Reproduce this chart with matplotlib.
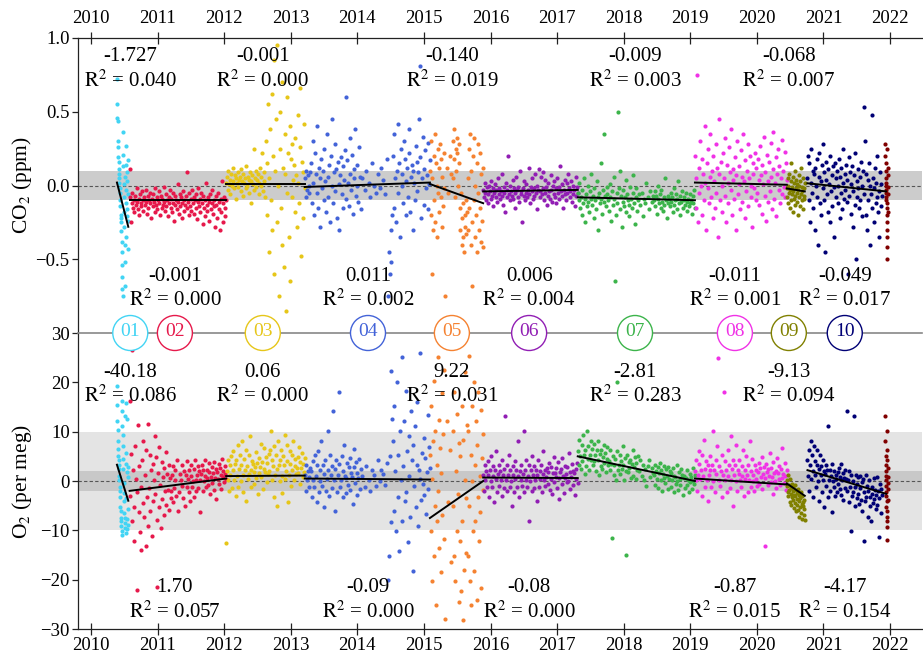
import numpy as np
import matplotlib
matplotlib.use('Agg')
import matplotlib.pyplot as plt

plt.rcParams['font.family'] = ['Liberation Serif', 'DejaVu Serif']
plt.rcParams['mathtext.fontset'] = 'stix'

nan = np.nan

# segments: name, colour, time span (decimal year)
seg_names = ['01', '02', '03', '04', '05', '06', '07', '08', '09', '10']
seg_colors = ['#42d4f4', '#e6194b', '#e6c619', '#4363d8', '#f58231',
              '#911eb4', '#3cb44b', '#f032e6', '#808000', '#000075', '#800000']
seg_start = [2010.39, 2010.58, 2012.03, 2013.21, 2015.09, 2015.89, 2017.31, 2019.07, 2020.45, 2020.76, 2021.93]
seg_end = [2010.56, 2012.03, 2013.21, 2015.09, 2015.89, 2017.31, 2019.07, 2020.45, 2020.72, 2021.88, 2021.97]

# regression lines (value at start / end of each segment)
fit_t1 = [2010.56, 2012.03, 2013.21, 2015.09, 2015.89, 2017.31, 2019.07, 2020.45, 2020.72, 2021.94]
co2_fit_start = [0.02, -0.10, 0.01, -0.01, 0.01, -0.04, -0.08, 0.02, -0.02, 0.015]
co2_fit_end = [-0.28, -0.10, 0.01, 0.02, -0.12, -0.03, -0.10, 0.005, -0.04, -0.04]
o2_fit_start = [3.3, -2.0, 1.0, 0.5, -7.5, 0.7, 5.0, 0.5, -0.5, 2.2]
o2_fit_end = [-4.0, 0.5, 1.1, 0.3, 0.0, 0.6, 0.0, -0.7, -3.0, -2.6]

co2_slope = [-1.727, -0.001, -0.001, 0.011, -0.140, 0.006, -0.009, -0.011, -0.068, -0.049]
co2_r2 = [0.040, 0.000, 0.000, 0.002, 0.019, 0.004, 0.003, 0.001, 0.007, 0.017]
o2_slope = [-40.18, 1.70, 0.06, -0.09, 9.22, -0.08, -2.81, -0.87, -9.13, -4.17]
o2_r2 = [0.086, 0.057, 0.000, 0.000, 0.031, 0.000, 0.283, 0.015, 0.094, 0.154]
label_x = [2010.59, 2011.26, 2012.58, 2014.16, 2015.42, 2016.58, 2018.17, 2019.67, 2020.48, 2021.32]

# CO2 residuals (ppm), in time order inside each segment
co2_01 = [0.72, 0.55, 0.46, 0.44, 0.30, 0.26, 0.19, 0.16, 0.11, 0.08, 0.05, 0.02, -0.02, -0.05, -0.10, -0.14, -0.20, -0.22, -0.25, -0.31,
          -0.38, -0.45, -0.54, -0.62, -0.70, -0.75, 0.36, 0.21, 0.13, 0.01, -0.08, -0.18, -0.28, -0.40, -0.52, -0.68, 0.06, -0.12, -0.35, 0.27,
          -0.03, 0.14, -0.21, 0.09, -0.16, 0.03, -0.24, -0.06, 0.17, -0.43]
co2_02 = [0.11, -0.08, -0.25, -0.12, -0.05, -0.15, -0.10, -0.18, -0.07, -0.13, -0.02, -0.11, -0.16, -0.09, -0.20, -0.06, -0.12, -0.14, -0.04, -0.10,
          -0.17, -0.08, -0.13, -0.03, -0.11, -0.19, -0.07, -0.15, -0.10, -0.12, -0.05, -0.22, -0.09, -0.14, -0.06, -0.11, -0.18, -0.02, -0.13, -0.08,
          -0.16, -0.10, -0.04, -0.12, -0.20, -0.07, -0.15, -0.09, -0.13, -0.01, -0.11, -0.17, -0.06, -0.14, -0.10, -0.21, -0.08, -0.12, -0.03, -0.15,
          -0.09, -0.18, -0.05, -0.12, -0.24, -0.07, -0.13, -0.10, -0.16, 0.01, -0.11, -0.19, -0.06, -0.14, -0.08, -0.22, -0.12, -0.04, -0.17, -0.10,
          -0.13, -0.07, -0.15, 0.09, -0.11, -0.20, -0.05, -0.14, -0.09, -0.17, -0.03, -0.12, -0.08, -0.19, -0.10, -0.15, -0.06, -0.23, -0.11, -0.02,
          -0.14, -0.09, -0.18, -0.05, -0.12, -0.26, -0.07, -0.15, -0.10, -0.21, 0.02, -0.13, -0.17, -0.08, -0.11, -0.24, -0.06, -0.16, -0.12, -0.03,
          -0.19, -0.10, -0.14, -0.28, -0.07, -0.13, -0.22, -0.05, -0.16, -0.11, -0.30, -0.09, -0.18, 0.03, -0.12, -0.25, -0.08, -0.15, -0.21, -0.10]
co2_03 = [0.02, 0.06, -0.03, 0.10, 0.01, 0.04, -0.06, 0.08, 0.00, 0.12, 0.03, -0.02, 0.07, 0.05, -0.09, 0.02, 0.09, -0.01, 0.04, 0.06,
          -0.04, 0.11, 0.03, -0.07, 0.08, 0.02, 0.05, -0.02, 0.13, 0.00, 0.06, -0.05, 0.04, 0.09, -0.12, 0.03, 0.07, 0.01, 0.25, -0.03,
          0.05, 0.10, -0.01, 0.04, 0.08, -0.06, 0.02, 0.12, 0.00, 0.06, 0.22, -0.04, 0.03, 0.09, -0.08,
          0.30, -0.20, 0.15, 0.55, -0.45, 0.05, 0.38, -0.10, 0.62, -0.30, 0.20, 0.85, -0.60, 0.10, 0.45, -0.25, 0.95, 0.00, -0.75, 0.25,
          0.50, -0.15, 0.70, -0.40, 0.12, -0.55, 0.35, 0.08, -0.85, 0.60, -0.05, 0.22, -0.35, 0.40, -0.65, 0.18, -0.08, 0.28, 0.04, 0.14,
          -0.18, 0.32, 0.07, -0.28, 0.48, 0.02, -0.12, 0.26, 0.66, -0.48, 0.16, 0.09, -0.22, 0.42, -0.02]
co2_04 = [0.05, -0.08, 0.10, -0.03, 0.07, 0.00, -0.05, 0.09,
          0.15, -0.12, 0.30, 0.02, -0.20, 0.22, 0.08, -0.05, 0.40, -0.15, 0.12, 0.05, -0.28, 0.18, -0.02, 0.10, -0.10, 0.25, 0.03, -0.18,
          0.35, 0.06, -0.08, 0.14, -0.25, 0.20, 0.00, 0.45, -0.12, 0.09, -0.04, 0.28, 0.11, -0.22, 0.16, 0.01, -0.30, 0.07, 0.19, -0.06,
          0.13, -0.15, 0.04, 0.24, 0.60, -0.09, 0.17, 0.02, -0.14, 0.32, 0.08, -0.03, 0.21, -0.19, 0.11, 0.05, 0.38, -0.07, 0.14, 0.00,
          -0.11, 0.26, 0.06, -0.16,
          nan, 0.05, nan, nan, -0.03, nan, 0.10, nan, nan, 0.02, nan, -0.08, nan, 0.15, nan, nan, 0.00, nan, -0.05, nan,
          nan, 0.08, nan, -0.02, nan, 0.12, nan, nan, 0.04, nan, -0.06, nan, 0.18, nan,
          -0.75, -0.45, -0.60, -0.30, -0.52, -0.20,
          0.20, -0.15, 0.35, 0.05, -0.25, 0.10, 0.42, -0.05, 0.15, -0.35, 0.25, 0.00, 0.08, -0.12, 0.30, 0.18, -0.20, 0.03, 0.12, -0.08,
          0.22, 0.38, -0.18, 0.06, 0.14, -0.30, 0.10, 0.02, -0.10, 0.27, 0.16, -0.04, 0.09, 0.45, 0.81, 0.19, -0.22, 0.05, 0.33, -0.13,
          0.11, 0.24, -0.02, 0.07, -0.16, 0.29, 0.01, 0.17]
co2_05 = [0.10, -0.20, 0.30, -0.60, 0.05, -0.30, 0.20, -0.10, 0.35, -0.25, 0.15, 0.00, -0.35, 0.25, -0.05, 0.12, -0.18, 0.28, -0.08, 0.18,
          -0.28, 0.06, -0.14, 0.22, -0.02,
          nan, -0.75, nan, 0.12, nan, nan, -0.05, nan, 0.20, nan, nan, 0.08, nan,
          0.30, 0.05, 0.38, 0.18, -0.08, 0.25, 0.10, 0.32, 0.22, 0.00, 0.15, 0.28,
          -0.15, -0.30, -0.05, -0.40, -0.22, -0.12, -0.35, -0.45, -0.20, -0.28, -0.10, -0.33, -0.18,
          0.05, -0.30, 0.25, -0.15, 0.35, -0.40, 0.10, -0.25, -0.68, 0.20, -0.10, 0.32, -0.35, 0.00, -0.20, 0.15, -0.45, 0.28, -0.05, -0.30,
          0.22, -0.15, -0.38, 0.08, -0.24, 0.12, -0.42]
co2_06 = [-0.03, -0.08, 0.02, -0.05, -0.10, -0.01, -0.06, -0.12, 0.00, -0.04, -0.09, 0.03, -0.07, -0.02, -0.14, -0.05, 0.01, -0.08, -0.03, -0.11,
          0.05, -0.06, -0.02, -0.09, -0.04, 0.08, -0.07, -0.13, -0.01, -0.05, -0.18, 0.02, -0.08, -0.03, 0.20, -0.06, -0.10, 0.00, -0.04, -0.07,
          0.04, -0.09, -0.02, -0.15, -0.05, 0.06, -0.03, -0.08, -0.01, -0.11, 0.10, -0.06, -0.04, -0.25, -0.02, -0.07, 0.03, -0.10, -0.05, 0.01,
          -0.08, -0.03, 0.12, -0.06, -0.12, -0.01, -0.04, 0.05, -0.09, -0.02, -0.07, 0.08, -0.05, -0.16, 0.00, -0.03, 0.11, -0.08, -0.04, 0.06,
          -0.06, 0.09, -0.02, -0.10, 0.04, -0.05, -0.01, -0.13, -0.07, 0.02, -0.04, -0.09, 0.07, -0.03, -0.11, 0.00, -0.06, 0.03, -0.08, -0.02,
          -0.12, 0.05, -0.05, -0.01, -0.09, 0.13, -0.04, -0.07, 0.01, -0.15, -0.03, 0.04, -0.06, -0.10, 0.02, -0.05, 0.08, -0.02, -0.08, -0.04,
          0.03, -0.11, -0.06, 0.00, -0.03, -0.14, 0.06, -0.07, -0.01, -0.05]
co2_07 = [-0.05, -0.10, 0.02, -0.15, -0.08, -0.20, -0.03, -0.12, 0.05, -0.09, -0.25, -0.06, -0.14, 0.00, -0.11, -0.18, -0.04, -0.09, 0.08, -0.13,
          -0.07, -0.22, -0.02, -0.10, -0.16, 0.03, -0.08, -0.30, -0.05, -0.12, 0.15, -0.09, -0.19, -0.03, -0.11, 0.35, -0.07, -0.14, -0.06, -0.01,
          -0.10, -0.17, 0.01, -0.08, -0.24, -0.04, -0.13, 0.06, -0.09, -0.65, -0.20, -0.05, -0.12, 0.50, -0.02, -0.16, 0.10, -0.07, -0.28, -0.11,
          -0.03, -0.14, -0.08, 0.04, -0.18, -0.06, -0.10, -0.21, -0.13, -0.01, -0.09, -0.15, 0.07, -0.05, -0.12, -0.26, -0.08, -0.02, -0.17, -0.10,
          -0.06, nan, -0.13, nan, -0.05, nan, -0.21, -0.09, nan, -0.12, 0.02, nan, -0.08, -0.16, nan, -0.04, nan, -0.11, nan, -0.07,
          -0.10, -0.04, -0.14, -0.07, -0.19, -0.09, 0.00, -0.12, -0.06, -0.15, -0.03, -0.11, -0.17, -0.08, -0.13, 0.05, -0.10, -0.22, -0.07, -0.12,
          -0.09, -0.14, -0.05, -0.11, -0.08, -0.18, -0.02, -0.13, -0.10, -0.06, -0.16, -0.09, 0.03, -0.12, -0.20, -0.07, -0.11, -0.04, -0.15, -0.10,
          -0.08, -0.13, -0.05, -0.17, -0.11, -0.09, -0.14, -0.06, -0.12, -0.10, -0.19, -0.07, -0.12, -0.03, -0.15]
co2_08 = [0.20, -0.15, 0.05, 0.75, -0.25, 0.12, -0.05, 0.30, 0.00, -0.20, 0.18, 0.08, -0.10, 0.40, 0.02, -0.30, 0.15, -0.02, 0.25, -0.12,
          0.06, 0.35, -0.08, 0.10, -0.22, 0.20, 0.03, -0.15, 0.28, -0.05, 0.12, -0.35, 0.08, 0.45, -0.10, 0.16, 0.00, -0.18, 0.22, 0.05,
          -0.07, 0.32, -0.25, 0.14, 0.02, -0.12, 0.26, 0.09, -0.03, 0.38, -0.20, 0.11, 0.04, -0.09, 0.19, -0.30, 0.07, 0.30, -0.06, 0.13,
          0.01, -0.16, 0.24, 0.06, -0.11, 0.35, 0.03, -0.22, 0.17, -0.04, 0.10, 0.28, -0.14, 0.05, 0.20, -0.08, 0.00, -0.28, 0.15, 0.08,
          -0.02, 0.22, -0.10, 0.12, -0.05, 0.18, 0.04, -0.13, 0.27, 0.07, -0.19, 0.14, 0.01, 0.33, -0.07, 0.09, -0.24, 0.21, 0.03, -0.11,
          0.16, -0.04, 0.29, 0.06, -0.16, 0.11, 0.36, -0.09, 0.02, 0.19, -0.21, 0.08, 0.25, -0.03, 0.13, -0.12, 0.05, 0.31, -0.06, 0.10,
          -0.01, 0.23, -0.08, 0.15, 0.04]
co2_09 = [-0.02, -0.08, 0.05, -0.12, 0.00, -0.05, 0.08, -0.15, -0.03, 0.03, -0.10, 0.15, -0.06, -0.01, -0.18, 0.06, -0.04, -0.09, 0.02, -0.13,
          0.10, -0.07, -0.02, 0.04, -0.11, -0.05, 0.01, -0.20, -0.03, 0.07, -0.08, 0.00, -0.14, 0.03, -0.06, 0.12, -0.10, -0.01, -0.04, -0.16,
          0.05, -0.07, -0.02, -0.09, 0.02]
co2_10 = [0.05, 0.20, -0.10, 0.15, -0.25, 0.02, 0.25, -0.05, 0.10, -0.15, 0.08, -0.30, 0.12, 0.00, 0.18, -0.08, -0.40, 0.06, 0.22, -0.12,
          0.03, -0.20, 0.14, -0.02, 0.28, -0.10, 0.09, -0.45, 0.04, 0.16, -0.06, -0.18, 0.11, 0.01, -0.25, 0.20, -0.04, 0.07, -0.14, 0.13,
          -0.01, -0.35, 0.15, -0.08, 0.05, 0.10, -0.12, 0.00, 0.18, -0.22, 0.06, -0.05, 0.12, -0.16, 0.02, 0.25, -0.09, 0.08, -0.03, 0.14,
          -0.11, 0.04, -0.60, 0.19, -0.07, 0.09, -0.19, 0.01, 0.13, -0.04, -0.28, 0.07, -0.13, 0.22, -0.50, 0.03, -0.08, 0.11, -0.02, -0.15,
          0.06, -0.10, 0.16, -0.21, 0.00, 0.10, -0.06, 0.53, 0.30, -0.20, 0.08, -0.30, 0.04, -0.10, 0.15, -0.40, 0.00, -0.06, 0.48, -0.15,
          0.05, -0.25, -0.02, 0.12, -0.12, 0.02, -0.08, 0.20, -0.18, -0.04, -0.35, 0.09, -0.14, 0.01, -0.07]
co2_11 = [0.28, 0.20, 0.15, 0.10, 0.05, 0.02, 0.00, -0.03, -0.05, -0.08, -0.10, -0.12, -0.15, -0.20, -0.25, -0.30, -0.35, -0.42, -0.50, 0.25,
          -0.01, -0.06, 0.07, -0.18, 0.12]

# O2 residuals (per meg)
o2_01 = [19.2, 15.4, 12.1, 10.3, 8.2, 6.4, 5.1, 4.3, 3.2, 2.4, 1.1, 0.3, -1.2, -2.1, -3.3, -5.2, -6.1, -7.4, -8.2, -9.1,
         -10.2, -11.0, 16.3, 14.1, 11.2, 9.3, 7.1, 4.5, 2.5, -0.5, -2.5, -4.1, -6.5, -7.5, -8.5, -9.5, 13.2, 3.5, -3.5, -10.5,
         15.8, 5.6, -7.8, 1.9, -9.8, 12.6, -5.7, 2.9, -8.9, 0.8]
o2_02 = [16.2, -3.1, 5.4, -8.2, 26.5, 2.3, -12.1, -5.2, 7.1, 0.4, -22.0, -2.3, 11.4, -6.2, 3.1, -10.3, -1.2, -14.0, 4.2, -4.4,
         8.1, -7.2, 1.3, -13.1, 6.2, -3.3, -9.1, 11.5, -1.4, 5.2, -6.1, 2.2, -11.2, 3.4, -4.1, 0.2, 9.2, -2.6, 4.8, -7.9,
         -21.5, 1.7, -5.3, 6.9, -0.8, -9.6, 3.8, -3.7, 0.9, -6.8, 2.6, -2.1, 5.9, -4.9, 1.4, -1.9, 3.2, -5.8, 0.6, -3.4,
         -2.1, 1.3, -4.2, 3.1, -1.4, 0.2, 2.3, -3.1, 4.2, -6.1, nan, -2.2, 1.4, nan, 0.3, -1.1, 3.2, -3.4, 2.1, nan,
         -5.1, 1.2, -1.3, 4.1, 0.4, -2.3, 2.2, -4.1, 1.1, 3.3, -1.2, 0.1, -3.2, 2.4, 4.3, 0.2, -2.1, 1.3, 3.1, -1.4,
         2.1, 0.3, -6.2, 1.4, 3.2, -2.1, 2.3, 0.1, 4.2, 1.1, -1.3, 2.2, 0.6, -0.9, 3.6, 1.8, -2.7, 0.9, 2.8, -0.4,
         1.6, 3.9, -1.8, 0.7, 2.5, -3.6, 1.9, 0.4, 3.4, -0.6, 2.7, 1.2, -1.6, 4.4, 0.8, 2.0, -0.2, 3.0, 1.5, 0.5]
o2_03 = [-12.5, 2.1, 0.3, 4.2, -2.1, 3.3, 1.2, 5.1, -1.4, 2.2, 6.1, 0.2, 3.4, -3.1, 4.3, 1.1, 7.2, -1.2, 2.4, 5.3,
         0.1, 3.2, 8.1, -2.2, 1.3, 4.4, 2.3, 6.2, -4.1, 3.1, 0.4, 5.2, 1.4, 9.1, 2.2, -1.3, 4.1, 3.4, 1.9, -0.6,
         2.8, 0.7, 5.8, 3.7, -2.6, 1.6, 4.7, 2.9, 7.4, 0.9, 3.9, -1.7, 2.5, 6.6, 1.8, 4.9, -0.3, 3.6, 1.5, 5.5,
         2.1, 6.2, 10.1, 0.2, 4.3, 3.1, -3.2, 7.1, 1.3, 5.2, 2.4, -5.1, 8.2, 3.3, 0.1, 4.2, 6.3, 1.1, -2.4, 5.1,
         3.2, 9.3, 0.4, 2.1, 7.2, 4.1, -4.2, 1.2, 6.1, 3.4, -1.1, 5.3, 2.2, 8.1, 0.3, 4.4, 3.1, 1.4, 2.7, 4.8,
         1.7, 6.8, -0.7, 3.8, 2.6, 5.7, 0.8, 3.5, 1.9, 4.6]
o2_04 = [1.2, -2.1, 3.3, 0.2, 2.1, -1.3, 0.8, 2.6,
         2.1, -3.2, 4.1, 0.3, -1.2, 5.3, 1.1, -4.2, 3.2, 6.1, -2.3, 2.2, 0.1, 8.2, -1.1, 3.3, -5.2, 1.4, 4.2, -2.1,
         0.4, 10.1, 2.3, -3.1, 5.2, 1.2, -1.4, 3.1, 14.2, 0.2, -6.1, 2.4, 4.3, -2.2, 1.3, 18.1, 3.4, -1.2, 0.3, 5.1,
         -3.3, 2.1, 7.2, 1.1, -2.4, 0.6, 3.7, -0.9, 2.8, 4.6, -1.8, 1.7, 0.9, -4.7, 2.9, 6.4, -0.4, 3.9, 1.6, -2.8,
         0.7, 4.4, -1.6, 2.5,
         nan, 1.1, nan, nan, -1.2, nan, 3.1, nan, nan, 0.2, nan, -2.1, nan, 2.3, nan, nan, 1.2, nan, -1.1, nan,
         nan, 4.2, nan, 0.1, nan, 2.2, nan, nan, 1.4, nan, -0.8, nan, 3.6, nan,
         -20.1, -15.2, 5.1, 22.3, -8.4, 12.6,
         8.2, -6.1, 15.3, 2.1, -10.2, 20.1, -3.2, 5.3, -14.1, 10.2, 0.3, 25.1, -8.2, 3.1, 12.2, -4.1, 18.3, -2.2, 6.1, -12.3,
         9.2, 1.1, -7.3, 14.1, 4.2, -18.2, 7.3, -1.1, 11.2, -5.3, 3.2, 16.1, -9.2, 2.3, 0.4, 26.0, -3.8, 5.7, -0.6, 8.8,
         -2.9, 4.6, -6.7, 1.8, 13.4, -1.7, 6.9, 2.7]
o2_05 = [5.2, -10.1, 15.3, -20.2, 0.4, 8.1, -15.2, 20.3, -5.1, 10.2, -25.1, 3.3, -8.2, 25.2, -2.1, 12.4, -13.6, 6.7, -18.5, 1.6,
         17.8, -6.9, 9.5, -11.7, 22.4,
         nan, -28.0, nan, 12.1, nan, nan, -4.2, nan, 6.3, nan, nan, -16.4, nan,
         -5.1, 10.2, -15.3, 18.1, -20.2, 2.1, 28.3, -10.1, 13.6, -2.7, 7.8, -24.5,
         -12.2, 5.1, -22.3, 15.2, -8.1, -28.2, 8.3, -18.1, 0.2, 22.1, -3.5, -14.6, 11.3,
         10.1, -15.2, 25.3, -5.1, -20.2, 5.2, -25.1, 15.3, 0.1, -10.2, 20.1, -18.3, 3.2, -8.1, 12.2, -24.1, 7.3, -3.2, 18.1, -12.2,
         1.1, -6.3, 14.4, -21.6, 4.7, -1.8, 9.6]
o2_06 = [1.2, -2.1, 3.3, 0.2, 2.1, -1.2, 4.1, 1.3, -3.2, 2.2, 0.1, 5.1, -1.3, 3.1, 1.1, -4.2, 2.3, 0.4, 6.1, -2.2,
         1.4, 3.2, -1.1, 2.1, 0.3, 4.2, -3.1, 1.2, 2.4, -1.4, 13.1, 0.2, 3.3, -2.1, 1.3, 5.2, -1.2, 2.2, 0.1, -5.1,
         3.1, 1.2, -2.2, 4.1, 0.4, 2.3, -1.3, 8.2, 1.1, -3.3, 2.1, 0.3, 3.2, -1.1, 1.4, 10.1, -2.3, 2.2, 0.2, 4.3,
         -1.2, 1.1, 3.3, -8.1, 0.1, 2.2, -2.1, 5.1, 1.3, -1.4, 3.1, 0.2, 2.3, -4.1, 1.2, 4.2, -1.3, 2.1, 0.4, 3.2,
         -2.2, 1.4, 6.1, 0.3, 2.2, -1.1, 0.8, 2.7, -0.6, 1.9, 3.6, -1.8, 0.5, 2.9, -2.7, 1.6, 4.8, -0.3, 1.7, 0.9,
         2.6, -1.5, 3.8, 0.6, -3.6, 1.8, 2.5, -0.7, 4.6, 1.0, -2.4, 0.7, 3.0, 1.5, -0.2, 2.8, 0.0, 5.6, -1.6, 1.9,
         0.8, 3.4, -0.9, 2.0, 1.6, -2.9, 2.4, 0.5, 3.7, -0.4]
o2_07 = [6.1, 3.2, 8.3, 5.1, 2.4, 7.2, 4.1, 9.3, 5.2, 1.4, 6.3, 3.1, 10.2, 4.4, 7.1, 2.2, 5.3, 8.1, 4.2, 6.4,
         3.3, 7.4, 4.1, 5.2, 2.1, 6.2, 4.3, 8.1, 1.2, 5.4, 3.1, 6.3, 2.4, 4.8, 7.2, 3.6, 5.7, 1.9, 6.8, 4.5,
         3.2, 4.1, 2.3, 6.2, 3.4, -11.5, 5.1, 1.3, 3.2, 4.4, 0.2, 20.1, 6.1, 2.2, 3.3, 5.2, 1.4, 4.1, 2.4, 7.1,
         3.2, 0.3, 4.6, 2.1, -15.0, 5.3, 1.8, 3.9, 2.6, 4.2, 0.7, 3.4, 6.2, 1.1, 2.9, 4.8, 0.4, 3.7, 2.2, 5.1,
         2.1, nan, 4.2, nan, 1.1, nan, 3.3, 0.2, nan, 2.4, -1.1, nan, 3.1, 4.3, nan, 0.8, nan, 2.7, nan, 1.6,
         1.2, 3.3, -0.9, 2.1, 0.4, 2.8, -1.4, 1.7, 3.6, 0.3, 2.2, -2.1, 1.4, 0.6, 3.1, -0.5, 2.4, 1.1, -1.7, 2.9,
         0.4, 2.1, -1.2, 1.6, 0.2, 2.7, -2.3, 1.1, 0.8, -0.6, 3.2, 0.1, -1.8, 1.9, 0.5, -0.9, 2.4, 1.3, -2.9, 0.7,
         1.1, -1.4, 0.6, 2.2, -0.8, 0.3, -2.2, 1.5, -0.3, 0.9, -1.6, 2.6, 0.1, -0.7, 1.2]
o2_08 = [2.1, 0.2, 4.3, -2.1, 1.2, 3.4, 6.1, 0.4, 2.2, -3.1, 5.2, 1.1, 8.3, -1.2, 2.4, 4.1, 0.3, 3.2, -4.1, 1.3,
         2.2, 5.1, -1.3, 3.3, 10.2, 0.1, 2.3, -2.2, 4.2, 1.4, 7.1, 25.0, 0.2, 3.1, -1.1, 2.1, 5.3, -3.2, 1.2, 18.1,
         0.3, 4.1, 2.2, -2.3, 6.2, 1.1, 3.3, -1.4, 9.1, 0.2, 2.4, 4.3, -5.1, 1.3, 3.2, 0.1, 7.2, -2.1, 2.3, 1.4,
         4.2, 0.3, -1.2, 3.1, 1.1, 6.3, -3.1, 2.2, 0.4, 5.1, 1.2, -2.2, 3.3, 0.2, 8.1, -1.3, 2.1, 4.4, 0.1, 1.3,
         -2.1, 3.2, 0.4, 2.2, -1.1, 1.8, 3.7, -0.6, 2.6, 0.9, 4.8, -1.7, 1.5, 2.9, -13.2, 0.6, 3.5, 1.9, -0.8, 2.4,
         1.0, 5.6, -0.3, 2.7, 0.8, -2.6, 3.9, 1.6, 0.0, 2.0, -1.5, 4.6, 1.7, 0.5, 3.0, -0.9, 2.5, 6.7, 0.7, 1.4,
         -0.4, 3.6, 1.1, -1.9, 2.3]
o2_09 = [0.2, -1.1, -2.2, 1.3, -3.1, -0.8, -1.9, -4.2, 0.4, -2.6, -1.5, -4.8, -0.7, -3.3, -2.1, -3.9, -1.2, -5.4, -2.8, -0.9,
         -4.4, -3.0, -1.8, -6.1, -2.4, -4.9, -3.6, -1.6, -5.8, -2.9, -4.1, -7.2, -3.4, -5.2, -2.2, -6.5, -4.6, -3.1, -7.8, -5.1,
         -4.3, -6.8, -3.8, -5.6, -8.0]
o2_10 = [4.2, 1.1, 6.3, -2.1, 3.2, 8.1, 0.4, 5.2, 2.1, -3.2, 7.1, 1.3, 4.1, -1.2, 3.3, 6.2, 0.1, 2.4, -4.1, 5.3,
         1.2, 3.1, -2.2, 4.3, 0.2, 2.1, -5.2, 1.4, 3.2, -1.1, 2.2, -3.3, 11.1, 0.3, 2.3, -2.1, 1.1, -6.2, 3.4, 0.1,
         -1.2, 2.1, -3.1, 1.3, 0.4, -2.2, 1.8, -0.6, 2.7, -1.7, 0.9, 3.4, -2.8, 0.2, 1.6, -3.9, 0.7, 2.2, -1.4, 0.5,
         14.1, -2.1, 0.3, -4.2, 2.1, -1.3, -10.2, 1.2, -3.1, 0.1, -2.3, 13.2, -5.1, -1.2, 1.3, -3.4, -0.6, 0.8, -2.7, -4.6,
         -1.5, 1.1, -3.8, -0.2, -6.1, 0.4, -2.2, -12.1, -4.1, 1.3, -3.2, -1.1, -7.2, -2.1, 0.2, -5.1, -3.3, -8.1, -1.3, -2.6,
         -4.4, 0.6, -3.6, -1.8, -5.6, -2.9, 0.9, -4.8, -2.0, -11.3, -3.5, -0.7, -6.4, -1.6, -2.8]
o2_11 = [13.1, 8.2, 5.1, 3.2, 1.1, 0.2, -1.1, -2.2, -3.1, -5.2, 2.1, -4.1, 4.2, -6.1, 6.3, -7.2, -8.1, -9.3, -12.0, 10.2,
         0.8, -1.6, 2.7, -3.8, -0.4]

co2_data = [co2_01, co2_02, co2_03, co2_04, co2_05, co2_06, co2_07, co2_08, co2_09, co2_10, co2_11]
o2_data = [o2_01, o2_02, o2_03, o2_04, o2_05, o2_06, o2_07, o2_08, o2_09, o2_10, o2_11]

W, H = 923, 655
fig = plt.figure(figsize=(W / 100, H / 100), dpi=100)
ax1 = fig.add_axes([78 / W, 1 - 333 / H, 844 / W, 295 / H])
ax2 = fig.add_axes([78 / W, 1 - 629 / H, 844 / W, 296 / H])

# background bands and zero lines
ax1.axhspan(-0.1, 0.1, color='#cccccc', lw=0, zorder=0)
ax2.axhspan(-10, 10, color='#e4e4e4', lw=0, zorder=0)
ax2.axhspan(-2, 2, color='#c8c8c8', lw=0, zorder=0)
for ax in (ax1, ax2):
    ax.axhline(0, color='#555555', lw=0.8, ls=(0, (3, 2)), zorder=1)

for i in range(len(co2_data)):
    t = np.linspace(seg_start[i], seg_end[i], len(co2_data[i]))
    ax1.scatter(t, co2_data[i], s=9, color=seg_colors[i], lw=0, zorder=2)
    t = np.linspace(seg_start[i], seg_end[i], len(o2_data[i]))
    ax2.scatter(t, o2_data[i], s=9, color=seg_colors[i], lw=0, zorder=2)

for i in range(len(fit_t1)):
    ax1.plot([seg_start[i], fit_t1[i]], [co2_fit_start[i], co2_fit_end[i]], color='k', lw=1.4, zorder=3)
    ax2.plot([seg_start[i], fit_t1[i]], [o2_fit_start[i], o2_fit_end[i]], color='k', lw=1.4, zorder=3)

# slope / R2 labels: odd segments on top, even ones at the bottom
fs = 15
tr1 = ax1.get_xaxis_transform()
tr2 = ax2.get_xaxis_transform()
for i in range(len(seg_names)):
    if i % 2 == 0:
        y1 = (0.936, 0.854)
        y2 = (0.868, 0.787)
    else:
        y1 = (0.193, 0.112)
        y2 = (0.139, 0.057)
    ax1.text(label_x[i], y1[0], '{:.3f}'.format(co2_slope[i]), transform=tr1, ha='center', va='center', fontsize=fs, zorder=6)
    ax1.text(label_x[i], y1[1], r'$\mathrm{R}^2$ = ' + '{:.3f}'.format(co2_r2[i]), transform=tr1, ha='center', va='center', fontsize=fs, zorder=6)
    ax2.text(label_x[i], y2[0], '{:.2f}'.format(o2_slope[i]), transform=tr2, ha='center', va='center', fontsize=fs, zorder=6)
    ax2.text(label_x[i], y2[1], r'$\mathrm{R}^2$ = ' + '{:.3f}'.format(o2_r2[i]), transform=tr2, ha='center', va='center', fontsize=fs, zorder=6)

# numbered circles on the panel border
ax2.scatter(label_x, [30] * len(label_x), s=635, facecolor='white', edgecolors=seg_colors[:10], lw=1.0,
            clip_on=False, zorder=7)
for i in range(len(seg_names)):
    ax2.text(label_x[i], 30.4, seg_names[i], color=seg_colors[i], ha='center', va='center', fontsize=14,
             clip_on=False, zorder=8)

xmin, xmax = 2009.805, 2022.48
years = list(range(2010, 2023))
for ax in (ax1, ax2):
    ax.set_xlim(xmin, xmax)
    ax.set_xticks(years)
    ax.spines['right'].set_visible(False)
    for s in ax.spines.values():
        s.set_linewidth(0.9)
        s.set_color('#222222')
    ax.tick_params(axis='y', direction='out', length=4, width=0.9, pad=2, labelsize=13.5, color='#222222')
    ax.tick_params(axis='x', direction='inout', length=8, width=0.9, labelsize=13.5, color='#222222')

ax1.set_ylim(-1.0, 1.0)
ax1.set_yticks([-0.5, 0.0, 0.5, 1.0])
ax1.spines['bottom'].set_visible(False)
ax1.xaxis.tick_top()
ax1.tick_params(axis='x', pad=4)

ax2.set_ylim(-30, 30)
ax2.set_yticks([-30, -20, -10, 0, 10, 20, 30])
ax2.spines['top'].set_color('#888888')
ax2.spines['top'].set_linewidth(1.2)
ax2.tick_params(axis='x', pad=2)

fig.text(22 / W, 1 - 185 / H, r'CO$_2$ (ppm)', rotation=90, ha='center', va='center', fontsize=15.5)
fig.text(22 / W, 1 - 481 / H, r'O$_2$ (per meg)', rotation=90, ha='center', va='center', fontsize=15.5)

fig.savefig('out.png', dpi=100)
